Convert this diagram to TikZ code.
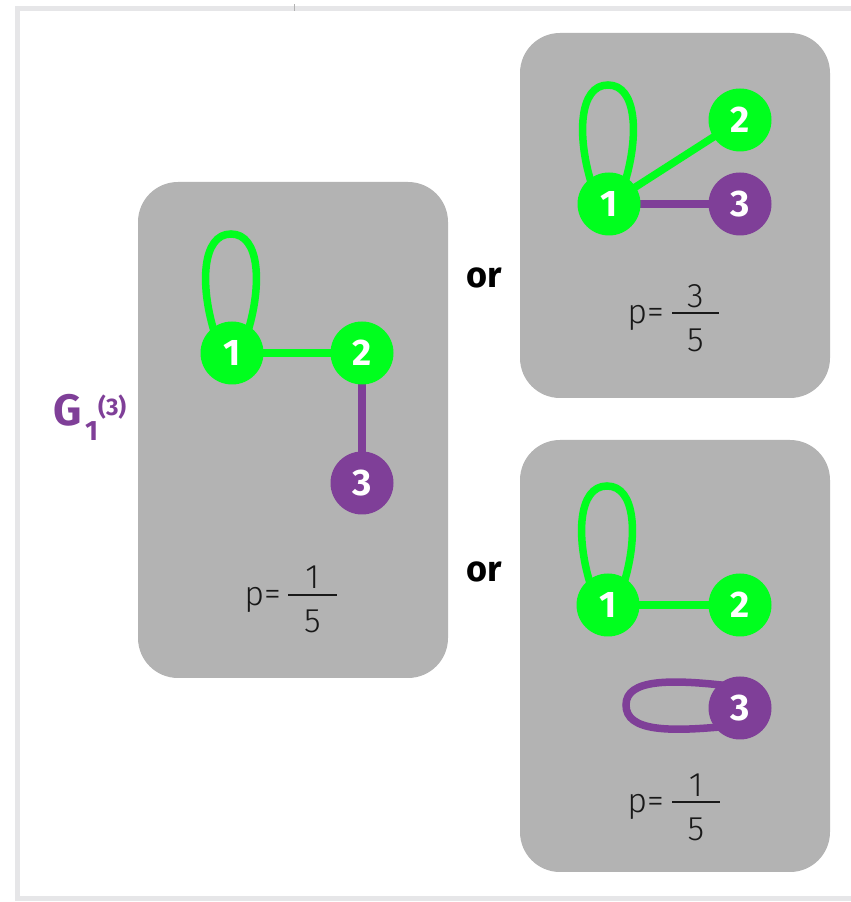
\documentclass[tikz,border=0pt]{standalone}
\usepackage{fontspec}
\setmainfont{Fira Sans}
\newfontfamily\lightfont{Fira Sans Light}
\usetikzlibrary{calc}
\definecolor{gr}{RGB}{0,255,30}
\definecolor{pu}{RGB}{127,63,152}
\definecolor{boxgray}{RGB}{179,179,179}
\definecolor{framegray}{RGB}{230,230,232}
\pgfdeclarelayer{bg}
\pgfdeclarelayer{edges}
\pgfsetlayers{bg,edges,main}
\newcommand\greenloop[1]{\draw[gedge] ($(#1)+(-18,22)$) .. controls ($(#1)+(-32,68)$) and ($(#1)+(-30,119)$) .. ($(#1)+(-1,119)$) .. controls ($(#1)+(28,119)$) and ($(#1)+(30,68)$) .. ($(#1)+(16,22)$);}
\begin{document}
\begin{tikzpicture}[x=1pt,y=1pt,
  vert/.style={circle, minimum size=63pt, inner sep=0pt, font=\bfseries\fontsize{37}{37}\selectfont, text=white},
  gv/.style={vert, fill=gr},
  pv/.style={vert, fill=pu},
  gedge/.style={draw=gr, line width=7.5pt},
  pedge/.style={draw=pu, line width=7.5pt},
  panel/.style={fill=boxgray, rounded corners=40pt},
  ortext/.style={font=\bfseries\fontsize{36}{36}\selectfont, inner sep=0pt},
  ptext/.style={font=\lightfont\fontsize{34}{34}\selectfont, text=black!90, inner sep=0pt},
  fracbar/.style={draw=black!90, line width=1.8pt},
  glabel/.style={text=pu, inner sep=0pt},
]
\useasboundingbox (0,0) rectangle (851,902);
% page frame
\begin{pgfonlayer}{bg}
\draw[framegray, line width=5pt] (860,893.5) -- (17.5,893.5) -- (17.5,3.5) -- (860,3.5);
\draw[gray!60, line width=1pt] (294,891) -- (294,898);
% panels
\fill[panel] (138,224) rectangle (448,720);
\fill[panel] (520,504) rectangle (830,869);
\fill[panel] (520,30) rectangle (830,462);
\end{pgfonlayer}

% left panel
\node[gv] (l1) at (232,549) {1};
\node[gv] (l2) at (362,549) {2};
\node[pv] (l3) at (362,419) {3};
% top right panel
\node[gv] (t1) at (609,698) {1};
\node[gv] (t2) at (740,782) {2};
\node[pv] (t3) at (740,698) {3};
% bottom right panel
\node[gv] (b1) at (608,297) {1};
\node[gv] (b2) at (740,297) {2};
\node[pv] (b3) at (740,194) {3};

\begin{pgfonlayer}{edges}
\greenloop{l1}
\draw[gedge] (l1.center) -- (l2.center);
\draw[pedge] (l2.center) -- (l3.center);
\greenloop{t1}
\draw[gedge] (t1.center) -- (t2.center);
\draw[pedge] (t1.center) -- (t3.center);
\greenloop{b1}
\draw[gedge] (b1.center) -- (b2.center);
\draw[pedge] ($(b3)+(-10,22)$) .. controls ($(b3)+(-70,29)$) and ($(b3)+(-114,29)$) .. ($(b3)+(-114,3)$) .. controls ($(b3)+(-114,-24)$) and ($(b3)+(-70,-24)$) .. ($(b3)+(-10,-18)$);
\end{pgfonlayer}

% probabilities
\node[ptext, anchor=base east] (lp) at (281,296) {p=};
\draw[fracbar] (288,307) -- (337,307);
\node[ptext, anchor=base] (ln) at (312.5,313) {1};
\node[ptext, anchor=base] (ld) at (312.5,269) {5};

\node[ptext, anchor=base east] (tp) at (664,578) {p=};
\draw[fracbar] (672,589) -- (719,589);
\node[ptext, anchor=base] (tn) at (695.5,594) {3};
\node[ptext, anchor=base] (td) at (695.5,550) {5};

\node[ptext, anchor=base east] (bp) at (664,89) {p=};
\draw[fracbar] (672,100) -- (720,100);
\node[ptext, anchor=base] (bn) at (696,105) {1};
\node[ptext, anchor=base] (bd) at (696,61) {5};

% or
\node[ortext] (or1) at (484,624) {or};
\node[ortext] (or2) at (484,330) {or};

% graph name
\node[glabel, anchor=base west, font=\bfseries\fontsize{44}{44}\selectfont] (gG) at (53,476) {G};
\node[glabel, anchor=base west, font=\bfseries\fontsize{28}{28}\selectfont] (gsub) at (85,461) {1};
\node[glabel, anchor=base west, font=\bfseries\fontsize{24}{24}\selectfont] (gsup) at (98,486) {(3)};
\end{tikzpicture}
\end{document}
